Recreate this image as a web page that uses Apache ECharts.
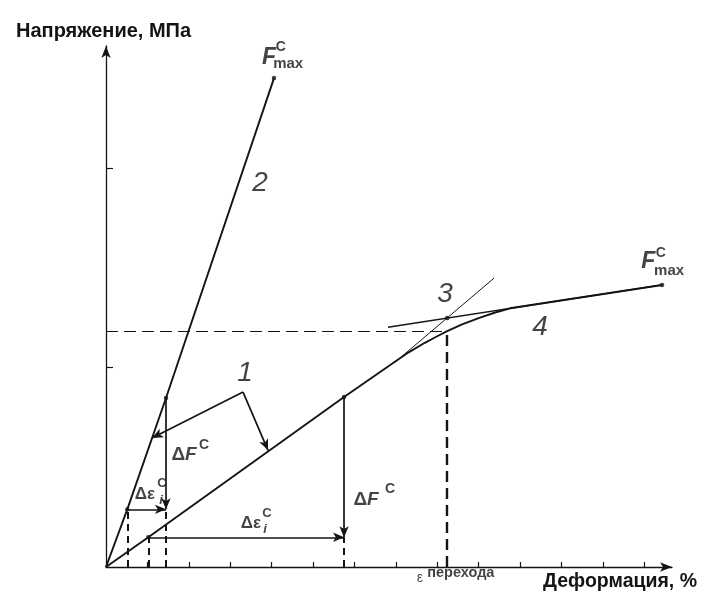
<!DOCTYPE html>
<html><head><meta charset="utf-8">
<script src="https://cdn.jsdelivr.net/npm/echarts@6/dist/echarts.min.js"></script>
<style>html,body{margin:0;padding:0;background:#fff}#c{width:704px;height:594px}</style>
</head><body><div id="c"></div>
<script>
// ---- data ----
const xTicks = [1,2,3,4,5,6,7,8,9,10,11,12,13];
const yTicks = [1,2];
// curve 2 (steep)
const line2X = [0, 0.514, 1.449, 4.058];
const line2Y = [0, 0.289, 0.847, 2.451];
// curve 1 (with transition)
const line1X = [0, 1.022, 5.749, 7.3, 7.7, 8.0, 8.24, 8.6, 9.0, 9.4, 9.76, 13.43];
const line1Y = [0, 0.149, 0.852, 1.075, 1.124, 1.157, 1.183, 1.216, 1.248, 1.276, 1.297, 1.414];
// tangents
const tangentSteepX = [7.0, 9.37];
const tangentSteepY = [1.03, 1.448];
const tangentFlatX = [6.81, 13.43];
const tangentFlatY = [1.202, 1.414];
// transition point
const transitionX = 8.24, transitionY = 1.183;
// marked points
const dotsX = [0.514, 1.449, 4.058, 1.022, 5.749, 13.43, 8.24];
const dotsY = [0.289, 0.847, 2.451, 0.149, 0.852, 1.414, 1.248];
// increments (curve 2, curve 1)
const stepLowX = [0.514, 1.022];
const stepLowY = [0.289, 0.149];
const stepHighX = [1.449, 5.749];
const stepHighY = [0.847, 0.852];
// callout "1"
const calloutApex = [3.31, 0.877];
const calloutTargetX = [1.111, 3.913];
const calloutTargetY = [0.647, 0.585];
// text annotations [rich text, x, y]
const annotations = [
  ['{n|1}', 3.357, 0.972],
  ['{n|2}', 3.72, 1.925],
  ['{n|3}', 8.188, 1.368],
  ['{n|4}', 10.483, 1.203],
  ['{F|F}', 3.94, 2.556], ['{s|C}', 4.22, 2.605], ['{m|max}', 4.40, 2.521],
  ['{F|F}', 13.10, 1.529], ['{s|C}', 13.40, 1.572], ['{m|max}', 13.60, 1.484],
  ['{d|Δ}{f|F}', 1.884, 0.561], ['{s|C}', 2.367, 0.612],
  ['{d|Δ}{f|F}', 6.28, 0.336], ['{s|C}', 6.86, 0.391],
  ['{e|Δε}', 0.942, 0.366], ['{s2|C}', 1.353, 0.421], ['{i|i}', 1.33, 0.336],
  ['{e|Δε}', 3.502, 0.221], ['{s2|C}', 3.889, 0.271], ['{i|i}', 3.84, 0.19],
  ['{eps|ε}', 7.58, -0.058], ['{t|перехода}', 8.57, -0.03]
];
const yName = 'Напряжение, МПа';
const xName = 'Деформация, %';

// ---- build ----
const FF = 'Liberation Sans, Arial, sans-serif';
const ink = '#141414';
const zip = (a, b) => a.map((v, i) => [v, b[i]]);
const rich = {
  n: {fontSize: 28, fontStyle: 'italic', fontFamily: FF, color: ink},
  F: {fontSize: 23, fontStyle: 'italic', fontWeight: 'bold', fontFamily: FF, color: ink},
  s: {fontSize: 14, fontWeight: 'bold', fontFamily: FF, color: ink},
  s2: {fontSize: 13, fontWeight: 'bold', fontFamily: FF, color: ink},
  m: {fontSize: 15, fontWeight: 'bold', fontFamily: FF, color: ink},
  d: {fontSize: 19, fontWeight: 'bold', fontFamily: FF, color: ink},
  f: {fontSize: 19, fontStyle: 'italic', fontWeight: 'bold', fontFamily: FF, color: ink},
  e: {fontSize: 17, fontWeight: 'bold', fontFamily: FF, color: ink},
  i: {fontSize: 13, fontStyle: 'italic', fontWeight: 'bold', fontFamily: FF, color: ink},
  eps: {fontSize: 14, fontFamily: FF, color: ink},
  t: {fontSize: 14.5, fontWeight: 'bold', fontFamily: FF, color: ink}
};

const arrowLines = [];
for (let k = 0; k < stepLowX.length; k++) {
  arrowLines.push([{coord: [stepLowX[k], stepLowY[k]]}, {coord: [stepHighX[k], stepLowY[k]]}]);
  arrowLines.push([{coord: [stepHighX[k], stepHighY[k]]}, {coord: [stepHighX[k], stepLowY[k]]}]);
}
for (let k = 0; k < calloutTargetX.length; k++) {
  arrowLines.push([{coord: calloutApex}, {coord: [calloutTargetX[k], calloutTargetY[k]]}]);
}
const dashSmall = {type: [7, 5], width: 2, color: ink};
const dashLines = [];
for (let k = 0; k < stepLowX.length; k++) {
  dashLines.push([{coord: [stepLowX[k], 0], lineStyle: dashSmall}, {coord: [stepLowX[k], stepLowY[k]]}]);
  dashLines.push([{coord: [stepHighX[k], 0], lineStyle: dashSmall}, {coord: [stepHighX[k], stepLowY[k]]}]);
}
dashLines.push([{coord: [0, transitionY], lineStyle: {type: [12, 6], width: 1.2, color: ink}}, {coord: [transitionX, transitionY]}]);
dashLines.push([{coord: [transitionX, 0], lineStyle: {type: [11, 6], width: 2.4, color: ink}}, {coord: [transitionX, transitionY]}]);

const chart = echarts.init(document.getElementById('c'), null, {renderer: 'canvas'});
chart.setOption({
  animation: false,
  backgroundColor: '#fff',
  title: [
    {text: yName, left: 11, top: 16, textStyle: {fontFamily: FF, fontSize: 20, fontWeight: 'bold', color: ink}},
    {text: xName, right: 2, top: 567, textStyle: {fontFamily: FF, fontSize: 19.5, fontWeight: 'bold', color: ink}}
  ],
  grid: {left: 106, right: 32, top: 46, bottom: 27, containLabel: false, outerBoundsMode: 'none'},
  xAxis: {
    type: 'value', min: 0, max: 13.67,
    axisLine: {show: true, onZero: false, symbol: ['none', 'arrow'], symbolSize: [7, 12], lineStyle: {color: ink, width: 1.3}},
    axisTick: {show: true, inside: true, length: 5, customValues: xTicks, lineStyle: {color: ink, width: 1.2}},
    axisLabel: {show: false}, splitLine: {show: false}
  },
  yAxis: {
    type: 'value', min: 0, max: 2.612,
    axisLine: {show: true, onZero: false, symbol: ['none', 'arrow'], symbolSize: [7, 12], lineStyle: {color: ink, width: 1.3}},
    axisTick: {show: true, inside: true, length: 7, customValues: yTicks, lineStyle: {color: ink, width: 1.2}},
    axisLabel: {show: false}, splitLine: {show: false}
  },
  series: [
    {
      type: 'line', data: zip(line2X, line2Y), showSymbol: false, silent: true,
      lineStyle: {color: ink, width: 1.9},
      markLine: {silent: true, symbol: ['none', 'arrow'], symbolSize: [7, 11], label: {show: false},
        lineStyle: {color: ink, width: 1.7, type: 'solid'}, data: arrowLines}
    },
    {
      type: 'line', data: zip(line1X, line1Y), showSymbol: false, silent: true,
      lineStyle: {color: ink, width: 1.9},
      markLine: {silent: true, symbol: ['none', 'none'], label: {show: false}, data: dashLines}
    },
    {type: 'line', data: zip(tangentSteepX, tangentSteepY), showSymbol: false, silent: true, lineStyle: {color: ink, width: 1}},
    {type: 'line', data: zip(tangentFlatX, tangentFlatY), showSymbol: false, silent: true, lineStyle: {color: ink, width: 1.3}},
    {type: 'scatter', data: zip(dotsX, dotsY), symbolSize: 4.5, itemStyle: {color: ink}, silent: true},
    {
      type: 'scatter', clip: false, symbolSize: 0, silent: true,
      data: annotations.map(a => ({value: [a[1], a[2]], label: {show: true, position: 'inside', formatter: a[0], rich: rich}}))
    }
  ]
});
</script></body></html>
